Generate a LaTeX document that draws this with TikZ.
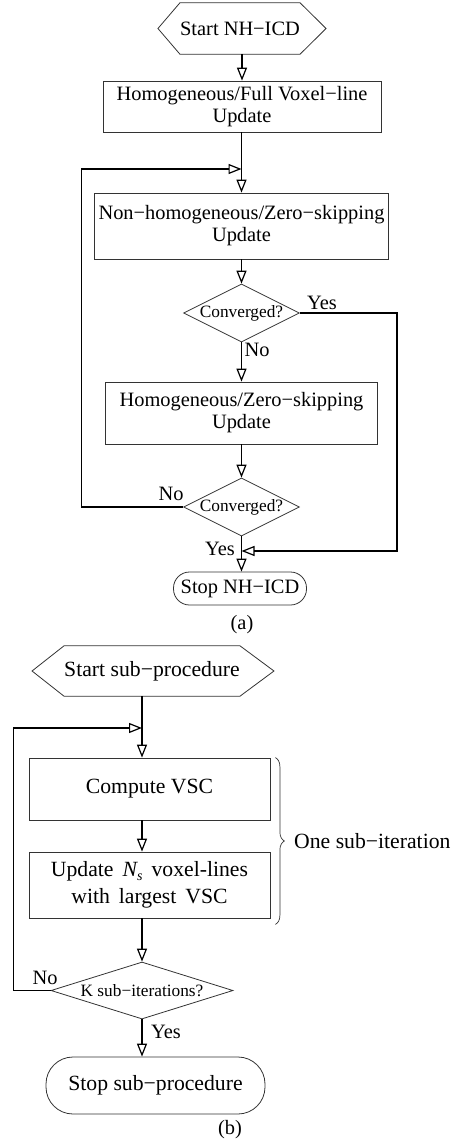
\documentclass[tikz,border=0pt]{standalone}
\usepackage{fontspec}
\setmainfont{Liberation Serif}
\usetikzlibrary{arrows.meta,shapes.geometric,decorations.pathreplacing,calc}

\begin{document}
\begin{tikzpicture}[x=1pt,y=-1pt,
  fa/.style={font=\fontsize{20.4}{22}\selectfont},
  fb/.style={font=\fontsize{21.7}{27}\selectfont},
  fs/.style={font=\fontsize{17.3}{19}\selectfont},
  outline/.style={draw=black!80,line width=0.8pt},
  procbox/.style={outline,rectangle,align=center,inner sep=0pt},
  hexlabel/.style={rectangle,inner sep=0pt},
  decision/.style={outline,diamond,inner sep=0pt,fs},
  terminal/.style={outline,rectangle,inner sep=0pt},
  conn/.style={draw=black,line width=1.2pt,-{Triangle[open,length=13pt,width=10pt]}},
  wire/.style={draw=black,line width=1.2pt},
  lbl/.style={inner sep=0pt}
]
\useasboundingbox (0,0) rectangle (458,1140);

% ---------------- (a) NH-ICD ----------------
\node[hexlabel,fa,minimum width=114,minimum height=51] (sa) at (240,28.5) {Start NH−ICD};
\draw[outline] (sa.north west) -- (sa.north east) -- ($(sa.east)+(26,0)$) -- (sa.south east)
  -- (sa.south west) -- ($(sa.west)+(-22,0)$) -- cycle;

\node[procbox,fa,minimum width=278,minimum height=51] (ba1) at (242,106.5)
  {Homogeneous/Full Voxel−line\\Update};
\node[procbox,fa,minimum width=294,minimum height=66] (ba2) at (241.5,226)
  {Non−homogeneous/Zero−skipping\\Update};
\node[decision,aspect=2,minimum width=116,minimum height=58] (da1) at (241.5,313) {Converged?};
\node[procbox,fa,minimum width=272,minimum height=62] (ba3) at (241.5,413)
  {Homogeneous/Zero−skipping\\Update};
\node[decision,aspect=2,minimum width=116,minimum height=58] (da2) at (241.5,507) {Converged?};
\node[terminal,fa,minimum width=133,minimum height=33,rounded corners=16pt] (ea) at (240,588.5) {Stop NH−ICD};
\node[lbl,fa] (capa) at (242,625) {(a)};

\coordinate (J1) at (241.5,169);
\coordinate (J3) at (241.5,551);

\draw[conn] (sa.south -| ba1.north) -- (ba1.north);
\draw[wire] (ba1.south -| J1) -- (J1);
\draw[conn] (J1) -- (J1 |- ba2.north);
\draw[conn] (ba2.south -| da1.north) -- (da1.north);
\draw[conn] (da1.south) -- (da1.south |- ba3.north);
\draw[conn] (ba3.south -| da2.north) -- (da2.north);
\draw[conn] (da2.west) -- ++(-102,0) |- (J1);
\draw[conn] (da2.south) -- (da2.south |- ea.north);
\draw[conn] (da1.east) -- ++(97,0) |- (J3);

\node[lbl,fa] (ya1) at (322,303) {Yes};
\node[lbl,fa] (na1) at (257,350) {No};
\node[lbl,fa] (na2) at (171,494) {No};
\node[lbl,fa] (ya2) at (220,549) {Yes};

% ---------------- (b) sub-procedure ----------------
\node[hexlabel,fb,minimum width=162,minimum height=50] (sb) at (152,671) {Start sub−procedure};
\draw[outline] (sb.north west) -- (sb.north east) -- ($(sb.east)+(34,0)$) -- (sb.south east)
  -- (sb.south west) -- ($(sb.west)+(-32,0)$) -- cycle;

\node[procbox,fb,minimum width=241,minimum height=62] (bb1) at (149.5,789) {Compute VSC};
\node[procbox,fb,minimum width=241,minimum height=66] (bb2) at (149.5,885)
  {Update\, {\itshape N}\raisebox{-0.35ex}{\fontsize{14}{14}\selectfont\itshape s}\, voxel-lines\\with\, largest\, VSC};
\node[decision,aspect=3.2,minimum width=182,minimum height=57] (db) at (142,990.5) {K sub−iterations?};
\node[terminal,fb,minimum width=219,minimum height=57,rounded corners=27pt] (eb) at (155.5,1085.5) {Stop sub−procedure};
\node[lbl,fa] (capb) at (230,1130) {(b)};

\coordinate (J2) at (142,728);

\draw[wire] (J2 |- sb.south) -- (J2);
\draw[conn] (J2) -- (J2 |- bb1.north);
\draw[conn] (J2 |- bb1.south) -- (J2 |- bb2.north);
\draw[conn] (J2 |- bb2.south) -- (db.north);
\draw[conn] (db.west) -- ++(-37,0) |- (J2);
\draw[conn] (db.south) -- (db.south |- eb.north);

\node[lbl,fa] (nb) at (45,978) {No};
\node[lbl,fa] (yb) at (166,1032) {Yes};

% brace grouping one sub-iteration
\draw[draw=black!80,line width=0.7pt,decorate,decoration={brace,amplitude=9pt}]
  ($(bb1.north east)+(5,0)$) -- ($(bb2.south east)+(5,6)$);
\node[lbl,fb,anchor=west] (sub) at (294,841) {One sub−iteration};
\end{tikzpicture}
\end{document}
